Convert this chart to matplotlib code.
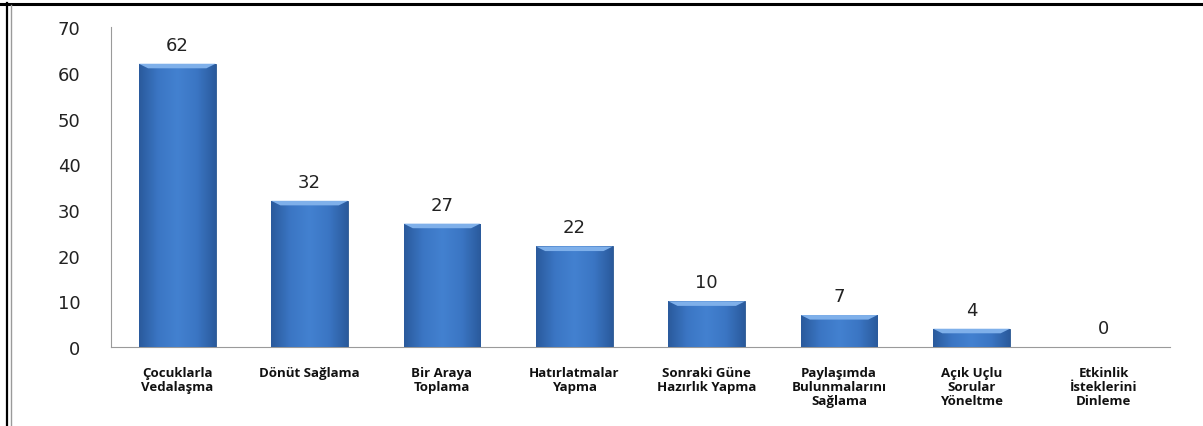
import numpy as np
import matplotlib
matplotlib.use("Agg")
from matplotlib import pyplot as plt
from matplotlib.lines import Line2D
from matplotlib.colors import LinearSegmentedColormap

categories = [
    "Çocuklarla\nVedalaşma",
    "Dönüt Sağlama",
    "Bir Araya\nToplama",
    "Hatırlatmalar\nYapma",
    "Sonraki Güne\nHazırlık Yapma",
    "Paylaşımda\nBulunmalarını\nSağlama",
    "Açık Uçlu\nSorular\nYöneltme",
    "Etkinlik\nİsteklerini\nDinleme",
]
values = [62, 32, 27, 22, 10, 7, 4, 0]
y_ticks = [0, 10, 20, 30, 40, 50, 60, 70]

fig = plt.figure(figsize=(12.03, 4.27), dpi=100)
ax = fig.add_axes([0.0923, 0.185, 0.8803, 0.749])

x = np.arange(len(categories))
bars = ax.bar(x, values, width=0.58, color="#3b74c2", edgecolor="#2a568f",
              linewidth=0.6, zorder=2)

# shaded look: darker at the edges, lighter in the middle
cmap = LinearSegmentedColormap.from_list(
    "bevel", ["#2a5a9c", "#3b76c4", "#4381d0", "#3b76c4", "#2a5a9c"])
grad = np.linspace(0, 1, 256).reshape(1, -1)
for b in bars:
    if b.get_height() <= 0:
        continue
    x0, w, h = b.get_x(), b.get_width(), b.get_height()
    im = ax.imshow(grad, cmap=cmap, aspect="auto", zorder=3,
                   extent=[x0, x0 + w, 0, h], interpolation="bicubic")
    im.set_clip_path(b)
    # lighter bevel at the top
    ax.fill([x0, x0 + w, x0 + w * 0.88, x0 + w * 0.12],
            [h, h, h - 1.0, h - 1.0], color="#7fb0ea", zorder=4, lw=0)

for xi, v in zip(x, values):
    ax.text(xi, v + 2.2, str(v), ha="center", va="bottom", fontsize=13,
            family="DejaVu Sans", color="#222222")

ax.set_xlim(-0.5, len(categories) - 0.5)
ax.set_ylim(0, 70)
ax.set_yticks(y_ticks)
ax.set_yticklabels([str(t) for t in y_ticks], fontsize=13, family="DejaVu Sans",
                   color="#222222")
ax.set_xticks(x)
ax.set_xticklabels(categories, fontsize=9.5, fontweight="bold", family="Open Sans",
                   color="#111111", linespacing=1.1, va="top")
ax.tick_params(axis="y", length=0, pad=22)
ax.tick_params(axis="x", length=0, pad=14)

for s in ["top", "right"]:
    ax.spines[s].set_visible(False)
ax.spines["left"].set_color("#9a9a9a")
ax.spines["bottom"].set_color("#9a9a9a")

# page frame around the chart
fig.add_artist(Line2D([0.0, 1.0], [0.988, 0.988], color="black", lw=2.2,
                      transform=fig.transFigure))
fig.add_artist(Line2D([0.0062, 0.0062], [0.0, 0.99], color="black", lw=1.6,
                      transform=fig.transFigure))
fig.add_artist(Line2D([0.0092, 0.0092], [0.0, 0.985], color="#9a9a9a", lw=1.0,
                      transform=fig.transFigure))

fig.savefig("out.png", dpi=100)
